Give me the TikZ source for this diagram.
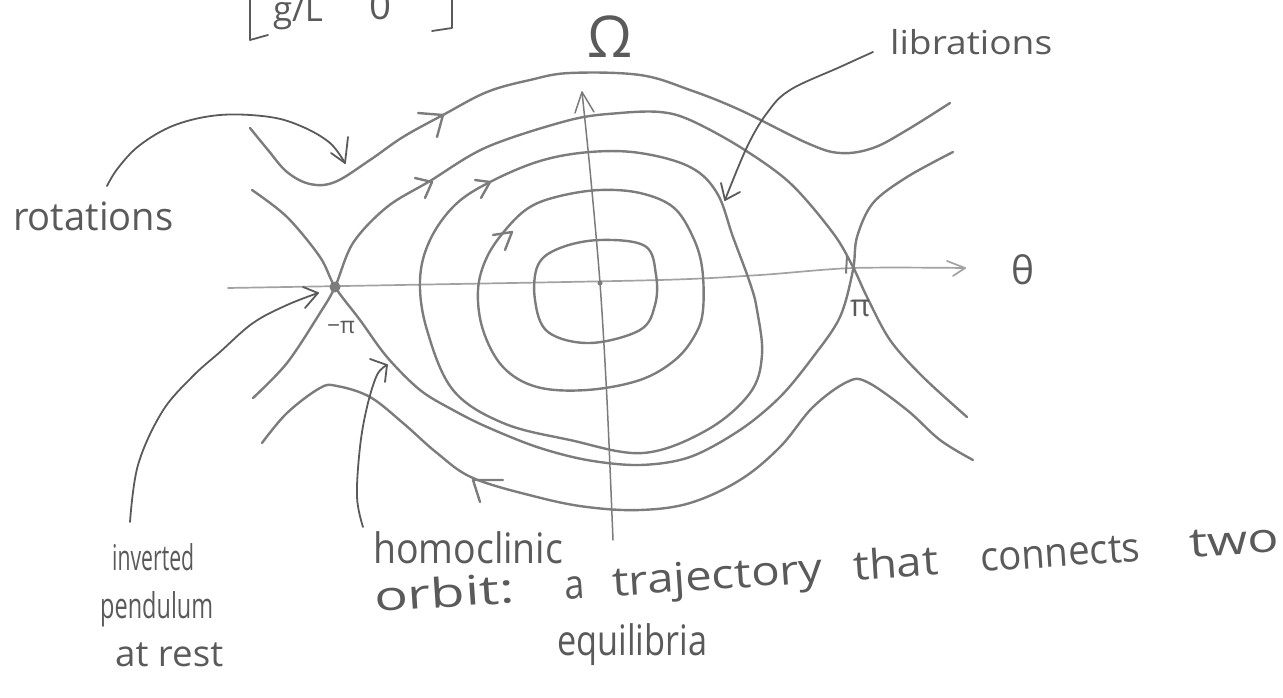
\documentclass[tikz,border=0pt]{standalone}
\usepackage{fontspec}
\setmainfont{Open Sans}
\usepackage{graphicx}
\definecolor{pencil}{HTML}{7C7C7C}
\definecolor{axisc}{HTML}{A2A2A2}
\definecolor{ink}{HTML}{5A5A5A}
\newcommand{\fitw}[2]{\resizebox{#1}{!}{#2}}
\newcommand{\wfit}[2]{\resizebox{#1}{\height}{#2}}
\begin{document}
\begin{tikzpicture}[x=1pt,y=-1pt,
  curve/.style={draw=pencil, line width=2.4pt, line cap=round, line join=round},
  axisline/.style={draw=axisc, line width=1.7pt, line cap=round, line join=round},
  leader/.style={draw=ink, line width=1.8pt, line cap=round, line join=round},
  chev/.style={draw=pencil, line width=2.4pt, line cap=round, line join=round},
  lbl/.style={inner sep=0pt, text=ink, anchor=base west},
  sym/.style={inner sep=0pt, text=ink},
  hw/.style={lbl, font=\fontsize{#1}{#1}\selectfont},
  word/.style={lbl, rotate=3.8, font=\fontsize{40.8}{41}\selectfont}
]
\useasboundingbox (0,0) rectangle (1283,698);

% axes
\draw[axisline] plot[smooth, tension=0.5] coordinates {(228,288) (400,285) (660,280) (760,275) (853,268) (965,268)};
\draw[axisline] (947,261) -- (965,268) -- (953,276);
\draw[axisline, draw=ink!80, line width=1.5pt] plot[smooth, tension=0.5] coordinates {(613,540) (607,400) (600,283) (590,170) (582,92)};
\draw[axisline, draw=ink!80, line width=1.5pt] (575,113) -- (582,92) -- (594,112);
\draw[curve, line width=2pt] (847,256) -- (846,273);

% rotations (top)
\draw[curve] plot[smooth, tension=0.6] coordinates {(250,128) (268,150) (287,172) (310,184) (335,182) (370,160) (403,137) (443,115) (487,92) (530,80) (570,73) (640,75) (690,90) (740,110) (807,143) (840,153) (873,148) (907,130) (950,103)};
% rotations (bottom)
\draw[curve] plot[smooth, tension=0.6] coordinates {(262,443) (287,413) (320,388) (337,386) (370,397) (403,423) (437,453) (473,478) (537,497) (587,507) (640,510) (690,503) (740,480) (780,447) (813,407) (847,382) (867,382) (907,410) (940,440) (973,460)};
% separatrices
\draw[curve] plot[smooth, tension=0.55] coordinates {(253,398) (287,363) (320,313) (335,287) (353,243) (387,207) (430,181) (487,147) (570,120) (620,113) (660,112) (690,120) (740,147) (790,183) (833,233) (853,267) (867,297) (890,340) (923,377) (967,417)};
\draw[curve] plot[smooth, tension=0.55] coordinates {(252,190) (287,217) (320,257) (335,287) (360,320) (387,357) (420,390) (453,410) (487,427) (537,447) (587,460) (640,465) (690,457) (740,430) (780,397) (813,357) (840,317) (853,270) (857,237) (873,203) (907,177) (953,152)};
% librations
\draw[curve] plot[smooth cycle, tension=0.6] coordinates {(420,280) (427,330) (453,390) (503,423) (570,440) (643,453) (707,430) (750,393) (762,355) (757,310) (750,283) (733,237) (717,193) (690,167) (640,153) (590,152) (540,161) (490,182) (455,205) (430,240)};
\draw[curve] plot[smooth cycle, tension=0.6] coordinates {(600,190) (640,193) (673,207) (692,235) (702,267) (703,310) (695,335) (675,360) (640,380) (587,390) (537,387) (503,367) (483,330) (478,290) (487,257) (507,228) (530,207) (560,196)};
\draw[curve] plot[smooth cycle, tension=0.6] coordinates {(600,240) (645,246) (656,275) (655,305) (640,330) (590,343) (548,332) (535,300) (538,265) (560,248)};

% flow chevrons
\draw[chev] (418,113) -- (443,115) -- (437,137);
\draw[chev] (415,178) -- (432,182) -- (425,198);
\draw[chev] (475,180) -- (490,182) -- (481,198);
\draw[chev] (493,235) -- (512,232) -- (505,250);
\draw[chev] (503,480) -- (473,480) -- (480,502);

% points
\fill[pencil] (335,287) circle (5.5pt);
\fill[pencil] (600,283) circle (2.5pt);

% labels
\node[sym] (omega) at (610,37) {\fitw{45pt}{Ω}};
\node[sym] (theta) at (1023,270) {\fitw{23pt}{θ}};
\node[sym] (mpi) at (341,327) {\fitw{28pt}{−π}};
\node[sym] (ppi) at (860,308) {\fitw{20pt}{π}};
\node[sym] (gl) at (298,13) {\fitw{50pt}{g/L}};
\node[sym] (zero) at (380,6) {\fitw{22pt}{0}};
\draw[leader] (250,0) -- (250,40) -- (268,35);
\draw[leader] (432,31) -- (452,28) -- (452,0);

\node[hw=39] (rot) at (13,230) {\wfit{160pt}{rotations}};
\node[hw=33] (lib) at (890,55) {\wfit{162pt}{librations}};
\node[hw=35.5] (inv) at (112,570) {\wfit{82pt}{inverted}};
\node[hw=35.5] (pend) at (100,618) {\wfit{113pt}{pendulum}};
\node[hw=36] (rest) at (115,666) {\wfit{108pt}{at rest}};
\node[hw=42] (homo) at (373,563) {\wfit{190pt}{homoclinic}};
\node[word] (w1) at (375,612) {\wfit{140pt}{orbit:}};
\node[word] (w2) at (565,599.4) {\wfit{20pt}{a}};
\node[word] (w3) at (613,596.2) {\wfit{211pt}{trajectory}};
\node[word] (w4) at (854,580.2) {\wfit{85pt}{that}};
\node[word] (w5) at (981,571.8) {\wfit{160pt}{connects}};
\node[word] (w6) at (1190,557.8) {\wfit{90pt}{two}};
\node[hw=42] (equi) at (557,655) {\wfit{150pt}{equilibria}};

% leaders
\coordinate (rtip) at (345,163);
\coordinate (ltip) at (725,200);
\coordinate (itip) at (318,293);
\coordinate (htip) at (387,365);
\draw[leader] plot[smooth, tension=0.6] coordinates {(107,186) (118,168) (140,145) (175,125) (220,115) (270,117) (303,127) (330,143) (rtip)};
\draw[leader] (348,137) -- (rtip) -- (331,153);
\draw[leader] plot[smooth, tension=0.6] coordinates {(873,52) (840,67) (790,90) (767,113) (747,147) (ltip)};
\draw[leader] (721,183) -- (ltip) -- (740,192);
\draw[leader] plot[smooth, tension=0.6] coordinates {(130,522) (138,465) (162,412) (192,377) (220,352) (253,323) (287,305) (itip)};
\draw[leader] (303,287) -- (itip) -- (305,308);
\draw[leader] plot[smooth, tension=0.6] coordinates {(363,527) (357,497) (360,447) (367,407) (377,375) (htip)};
\draw[leader] (370,359) -- (htip) -- (385,382);
\end{tikzpicture}
\end{document}
